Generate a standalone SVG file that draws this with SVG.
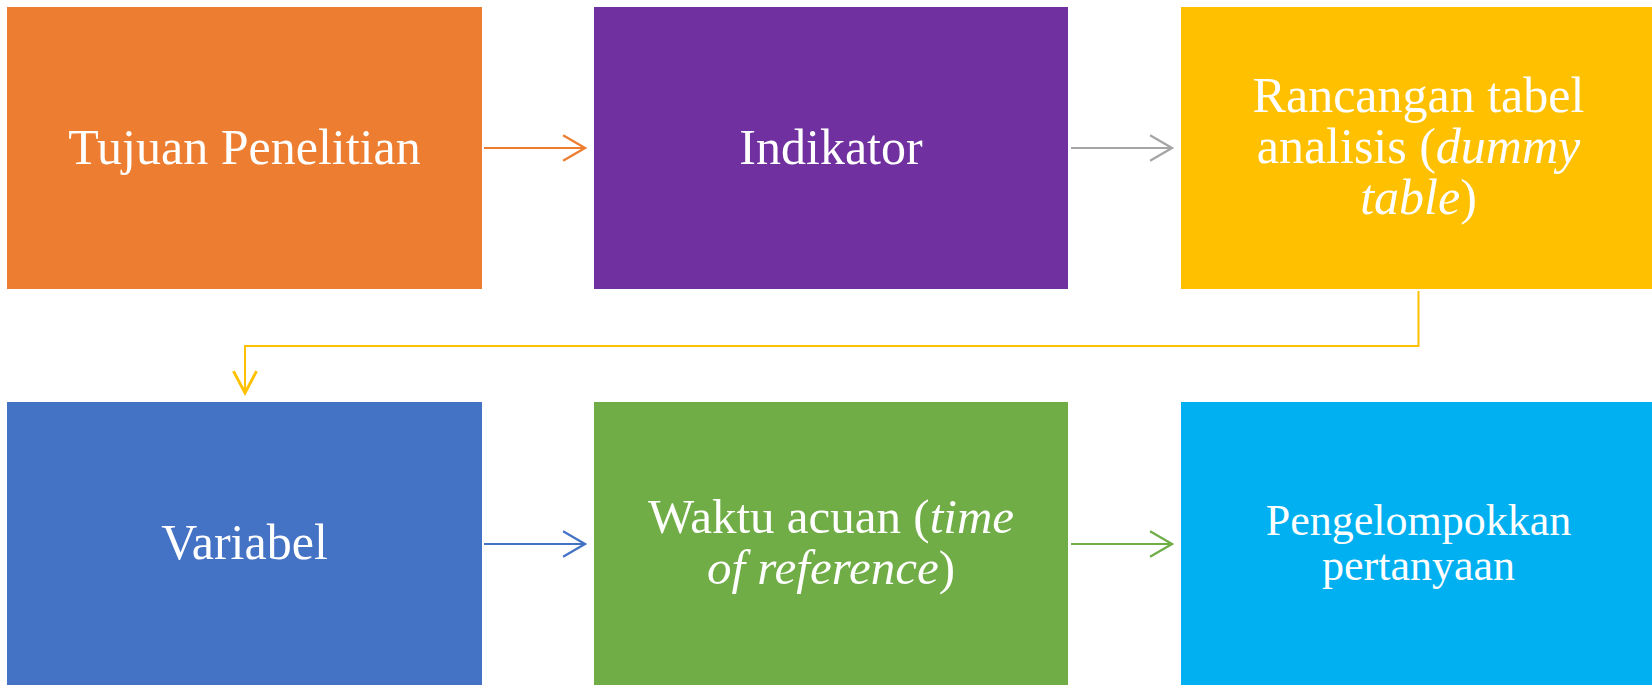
<svg xmlns="http://www.w3.org/2000/svg" width="1652" height="685" viewBox="0 0 1652 685">
  <style>
    .box { stroke: none; }
    .lbl { font-family: "Liberation Serif", "DejaVu Serif", serif; fill: #FFFFFF; text-anchor: middle; }
    .big { font-size: 50px; }
    .mid { font-size: 49px; }
    .small { font-size: 44px; }
    .it { font-style: italic; }
    .conn { fill: none; stroke-width: 2; }
  </style>
  <defs>
    <marker id="mOrange" markerUnits="userSpaceOnUse" markerWidth="30" markerHeight="30" refX="0" refY="0" viewBox="-22 -13 24 26" orient="auto" overflow="visible">
      <path d="M-19,-11 L0,0 L-19,11" fill="none" stroke="#ED7D31" stroke-width="2"/>
    </marker>
    <marker id="mGray" markerUnits="userSpaceOnUse" markerWidth="30" markerHeight="30" refX="0" refY="0" viewBox="-22 -13 24 26" orient="auto" overflow="visible">
      <path d="M-19,-11 L0,0 L-19,11" fill="none" stroke="#A5A5A5" stroke-width="2"/>
    </marker>
    <marker id="mYellow" markerUnits="userSpaceOnUse" markerWidth="30" markerHeight="30" refX="0" refY="0" viewBox="-22 -13 24 26" orient="auto" overflow="visible">
      <path d="M-19,-10 L0,0 L-19,10" fill="none" stroke="#FFC000" stroke-width="2.5"/>
    </marker>
    <marker id="mBlue" markerUnits="userSpaceOnUse" markerWidth="30" markerHeight="30" refX="0" refY="0" viewBox="-22 -13 24 26" orient="auto" overflow="visible">
      <path d="M-19,-11 L0,0 L-19,11" fill="none" stroke="#4472C4" stroke-width="2"/>
    </marker>
    <marker id="mGreen" markerUnits="userSpaceOnUse" markerWidth="30" markerHeight="30" refX="0" refY="0" viewBox="-22 -13 24 26" orient="auto" overflow="visible">
      <path d="M-19,-11 L0,0 L-19,11" fill="none" stroke="#70AD47" stroke-width="2"/>
    </marker>
  </defs>
  <rect width="1652" height="685" fill="#FFFFFF"/>

  <g id="node-tujuan">
    <rect class="box" x="7" y="7" width="475" height="282" fill="#ED7D31"/>
    <text class="lbl big" x="244.5" y="163.5">Tujuan Penelitian</text>
  </g>
  <g id="node-indikator">
    <rect class="box" x="594" y="7" width="474" height="282" fill="#7030A0"/>
    <text class="lbl big" x="831" y="163.5">Indikator</text>
  </g>
  <g id="node-rancangan">
    <rect class="box" x="1181" y="7" width="475" height="282" fill="#FFC000"/>
    <text class="lbl big" x="1418.5" y="112"><tspan x="1418.5" y="112">Rancangan tabel</tspan><tspan x="1418.5" y="163">analisis (<tspan class="it">dummy</tspan></tspan><tspan x="1418.5" y="213.5"><tspan class="it">table</tspan>)</tspan></text>
  </g>
  <g id="node-variabel">
    <rect class="box" x="7" y="402" width="475" height="283" fill="#4472C4"/>
    <text class="lbl big" x="244.5" y="559">Variabel</text>
  </g>
  <g id="node-waktu">
    <rect class="box" x="594" y="402" width="474" height="283" fill="#70AD47"/>
    <text class="lbl mid" x="831" y="533"><tspan x="831" y="533">Waktu acuan (<tspan class="it">time</tspan></tspan><tspan x="831" y="584"><tspan class="it">of reference</tspan>)</tspan></text>
  </g>
  <g id="node-pengelompokkan">
    <rect class="box" x="1181" y="402" width="475" height="283" fill="#00B0F0"/>
    <text class="lbl small" x="1418.5" y="535"><tspan x="1418.5" y="535">Pengelompokkan</tspan><tspan x="1418.5" y="580">pertanyaan</tspan></text>
  </g>

  <g id="connectors">
    <path class="conn" d="M484,148 H585" stroke="#ED7D31" marker-end="url(#mOrange)"/>
    <path class="conn" d="M1071,148 H1172" stroke="#A5A5A5" marker-end="url(#mGray)"/>
    <path class="conn" d="M1418.5,291 V346 H245 V393" stroke="#FFC000" stroke-width="2.5" marker-end="url(#mYellow)"/>
    <path class="conn" d="M484,544 H585" stroke="#4472C4" marker-end="url(#mBlue)"/>
    <path class="conn" d="M1071,544 H1172" stroke="#70AD47" marker-end="url(#mGreen)"/>
  </g>
</svg>
